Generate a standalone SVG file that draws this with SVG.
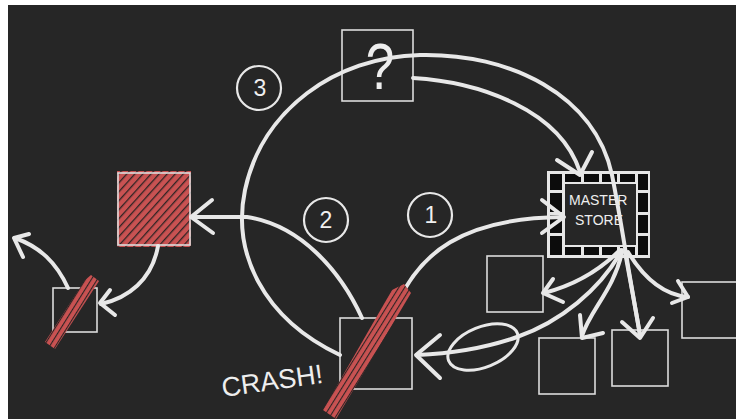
<svg xmlns="http://www.w3.org/2000/svg" width="736" height="419" viewBox="0 0 736 419">
<defs>
<pattern id="hatch" patternUnits="userSpaceOnUse" width="5" height="5" patternTransform="rotate(32)">
<rect x="0" y="0" width="5" height="5" fill="#c95252"/>
<rect x="0" y="0" width="1.1" height="5" fill="#2e2424"/>
</pattern>
<pattern id="hatch2" patternUnits="userSpaceOnUse" width="6" height="6" patternTransform="rotate(42)">
<rect x="0" y="0" width="6" height="6" fill="#c95252"/>
<rect x="0" y="0" width="1.3" height="6" fill="#2e2424"/>
</pattern>
<style>
.box{fill:none;stroke:#dcdcdc;stroke-width:1.6}
.ln{fill:none;stroke:#e8e8e8;stroke-width:4;stroke-linecap:round;stroke-linejoin:round}
.hd{fill:none;stroke:#e8e8e8;stroke-width:4;stroke-linecap:round;stroke-linejoin:round}
.ring{fill:none;stroke:#e8e8e8;stroke-width:2.2}
.num{font-family:"Liberation Sans",Arial,sans-serif;font-size:23px;fill:#f0f0f0;text-anchor:middle}
.lbl{font-family:"Liberation Sans",Arial,sans-serif;fill:#eeeeee}
.cell{fill:#0c0c0c}
</style>
</defs>
<rect x="0" y="0" width="736" height="419" fill="#ffffff"/>
<rect x="8" y="5" width="728" height="414" fill="#262626"/>

<g id="node-question">
<rect class="box" x="342" y="30" width="71" height="71"/>
<text class="lbl" x="0" y="0" font-size="64" text-anchor="middle" transform="translate(380 89) scale(0.8 1)">?</text>
</g>

<g id="node-red-box">
<rect x="117" y="171" width="74" height="76" fill="url(#hatch2)"/>
<rect class="box" x="118" y="173" width="72" height="72"/>
</g>

<g id="node-small-left">
<rect class="box" x="53" y="288" width="44" height="44"/>
</g>

<g id="node-crash">
<rect class="box" x="340" y="318" width="72" height="71"/>
<text class="lbl" x="223" y="397" font-size="27" transform="rotate(-8 223 397)">CRASH!</text>
</g>

<g id="node-master-store">
<rect x="547" y="171" width="103" height="87" fill="#e6e6e6"/>
<rect x="565" y="184" width="71" height="61" fill="#262626"/>
<rect class="cell" x="550" y="174" width="12" height="16"/>
<rect class="cell" x="550" y="193" width="12" height="19"/>
<rect class="cell" x="550" y="215" width="12" height="18"/>
<rect class="cell" x="550" y="236" width="12" height="19"/>
<rect class="cell" x="638" y="174" width="10" height="16"/>
<rect class="cell" x="638" y="193" width="10" height="19"/>
<rect class="cell" x="638" y="215" width="10" height="18"/>
<rect class="cell" x="638" y="236" width="10" height="19"/>
<rect class="cell" x="565" y="174" width="16" height="8"/>
<rect class="cell" x="584" y="174" width="15" height="8"/>
<rect class="cell" x="602" y="174" width="15" height="8"/>
<rect class="cell" x="620" y="174" width="15" height="8"/>
<rect class="cell" x="565" y="247" width="16" height="8"/>
<rect class="cell" x="584" y="247" width="15" height="8"/>
<rect class="cell" x="602" y="247" width="15" height="8"/>
<rect class="cell" x="620" y="247" width="15" height="8"/>
<text class="lbl" x="569" y="205" font-size="14">MASTER</text>
<text class="lbl" x="575" y="225" font-size="14">STORE</text>
</g>

<g id="node-box-a">
<rect class="box" x="487" y="256" width="56" height="56"/>
</g>
<g id="node-box-b">
<rect class="box" x="539" y="338" width="56" height="56"/>
</g>
<g id="node-box-c">
<rect class="box" x="612" y="330" width="56" height="56"/>
</g>
<g id="node-box-d">
<rect class="box" x="682" y="282" width="56" height="56"/>
</g>

<g id="label-1">
<circle class="ring" cx="430" cy="215" r="22"/>
<text class="num" x="431" y="223">1</text>
</g>
<g id="label-2">
<circle class="ring" cx="326" cy="220" r="22"/>
<text class="num" x="326" y="228">2</text>
</g>
<g id="label-3">
<circle class="ring" cx="259" cy="88" r="22"/>
<text class="num" x="260" y="96">3</text>
</g>

<g id="connectors">
<path class="ln" d="M340,355 C262,318 232,252 245,190 C262,110 335,57 420,55 C510,53 595,95 612,175 C622,225 628,270 640,334"/>
<path class="ln" d="M413,78 C480,82 560,110 580,172"/>
<path class="hd" d="M557,160 L580,175 L592,152"/>
<path class="ln" d="M398,302 C420,255 460,218 563,217"/>
<path class="hd" d="M542,200 L564,217 L542,233"/>
<path class="ln" d="M362,318 C340,270 300,225 247,217 L191,217"/>
<path class="hd" d="M212,200 L191,217 L213,233"/>
<path class="ln" d="M158,246 C152,280 128,298 101,304"/>
<path class="hd" d="M110,290 L100,303 L115,315"/>
<path class="ln" d="M68,288 C56,262 40,247 15,238"/>
<path class="hd" d="M29,234 L14,238 L23,257"/>
<path class="ln" d="M620,250 C600,270 575,285 544,293"/>
<path class="hd" d="M553,279 L543,293 L563,302"/>
<path class="ln" d="M622,250 C600,290 560,322 517,337 C480,350 440,354 417,355"/>
<path class="hd" d="M440,335 L416,355 L440,378"/>
<ellipse cx="483" cy="347" rx="37" ry="20" transform="rotate(-22 483 347)" fill="none" stroke="#e8e8e8" stroke-width="3"/>
<path class="ln" d="M622,252 C614,290 590,310 582,336"/>
<path class="hd" d="M580,315 L582,338 L603,333"/>
<path class="ln" d="M625,252 C630,280 636,310 640,336"/>
<path class="hd" d="M622,322 L640,338 L653,318"/>
<path class="ln" d="M628,252 C645,280 665,295 688,297"/>
<path class="hd" d="M678,281 L688,297 L672,303"/>
</g>

<g id="crash-marks">
<polygon points="323,410 336,419 411,293 404,284 392,290" fill="url(#hatch)"/>
<polygon points="45,342 55,349 99,281 91,275 85,280" fill="url(#hatch)"/>
</g>
</svg>
